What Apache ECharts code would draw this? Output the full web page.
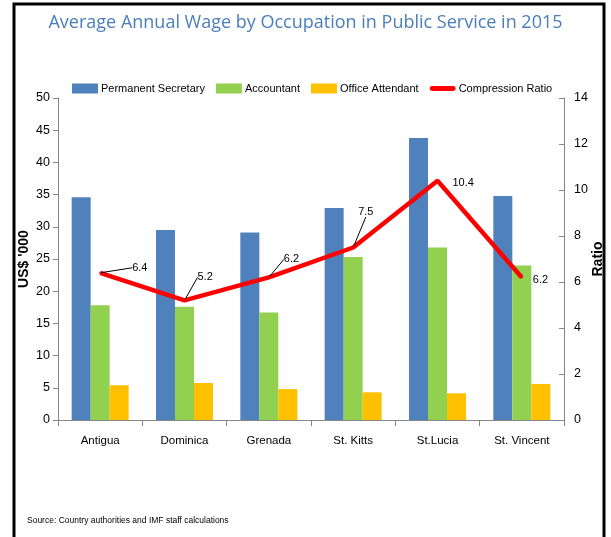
<!DOCTYPE html>
<html>
<head>
<meta charset="utf-8">
<script src="https://cdn.jsdelivr.net/npm/echarts@6/dist/echarts.min.js"></script>
<style>
  html, body { margin: 0; padding: 0; background: #fff; }
  #chart { width: 611px; height: 537px; }
</style>
</head>
<body>
<div id="chart"></div>
<script>
const countries = ['Antigua', 'Dominica', 'Grenada', 'St. Kitts', 'St.Lucia', 'St. Vincent']
const permanentSecretary = [34.6, 29.5, 29.1, 32.9, 43.8, 34.8]
const accountant = [17.8, 17.6, 16.7, 25.3, 26.8, 24.0]
const officeAttendant = [5.4, 5.75, 4.8, 4.3, 4.15, 5.6]
const compressionRatio = [6.4, 5.2, 6.2, 7.5, 10.4, 6.2]

// label shifts (Excel dragged the data labels around)
const labelShift = [[26, -5], [7, -23], [9, -18], [-1, -36], [9, 2], [5, 3]]
const showLeader = [true, true, true, true, false, false]

const font = '"Liberation Sans", Arial, sans-serif'

const myChart = echarts.init(document.getElementById('chart'))

const barSeries = (name, data, color) => ({
  name,
  type: 'bar',
  data,
  yAxisIndex: 0,
  barWidth: 19,
  barGap: '0%',
  itemStyle: { color }
})

const options = {
  animation: false,
  title: {
    text: 'Average Annual Wage by Occupation in Public Service in 2015',
    left: 'center',
    top: 9,
    textStyle: {
      fontFamily: '"Open Sans", sans-serif',
      fontSize: 18,
      fontWeight: 'normal',
      color: '#4a7ebb'
    }
  },
  legend: {
    left: 72,
    top: 83,
    padding: 0,
    itemWidth: 26,
    itemHeight: 10,
    itemGap: 11,
    textStyle: { fontFamily: font, fontSize: 11, color: '#000', padding: [0, 0, 0, -2] },
    data: [
      { name: 'Permanent Secretary', icon: 'rect' },
      { name: 'Accountant', icon: 'rect' },
      { name: 'Office Attendant', icon: 'rect' },
      { name: 'Compression Ratio', icon: 'path://M2,0 H24 A2.5,2.5 0 0 1 24,5 H2 A2.5,2.5 0 0 1 2,0 Z' }
    ]
  },
  grid: { left: 58, right: 47, top: 98, bottom: 117, outerBoundsMode: 'none' },
  xAxis: {
    type: 'category',
    data: countries,
    axisLine: { lineStyle: { color: '#868686', width: 1 } },
    axisTick: { show: true, length: 6, lineStyle: { color: '#868686' } },
    axisLabel: { fontFamily: font, fontSize: 11.5, color: '#000', margin: 15 }
  },
  yAxis: [
    {
      type: 'value',
      min: 0,
      max: 50,
      interval: 5,
      name: "US$ '000",
      nameLocation: 'middle',
      nameRotate: 90,
      nameGap: 27,
      nameMoveOverlap: false,
      nameTextStyle: { fontFamily: font, fontSize: 14, fontWeight: 'bold', color: '#000' },
      splitLine: { show: false },
      axisLine: { show: true, lineStyle: { color: '#868686' } },
      axisTick: { show: true, length: 5, lineStyle: { color: '#868686' } },
      axisLabel: { fontFamily: font, fontSize: 12.5, color: '#000', margin: 8 }
    },
    {
      type: 'value',
      min: 0,
      max: 14,
      interval: 2,
      name: 'Ratio',
      nameLocation: 'middle',
      nameRotate: 90,
      nameGap: 27,
      nameMoveOverlap: false,
      nameTextStyle: { fontFamily: font, fontSize: 14, fontWeight: 'bold', color: '#000' },
      splitLine: { show: false },
      axisLine: { show: true, lineStyle: { color: '#868686' } },
      axisTick: { show: true, inside: true, length: 5, lineStyle: { color: '#868686' } },
      axisLabel: { fontFamily: font, fontSize: 12.5, color: '#000', margin: 10 }
    }
  ],
  series: [
    barSeries('Permanent Secretary', permanentSecretary, '#4f81bd'),
    barSeries('Accountant', accountant, '#92d050'),
    barSeries('Office Attendant', officeAttendant, '#ffc000'),
    {
      name: 'Compression Ratio',
      type: 'line',
      yAxisIndex: 1,
      data: compressionRatio.map((v, i) => ({
        value: v,
        labelLine: { show: showLeader[i] }
      })),
      symbol: 'circle',
      symbolSize: 2,
      showSymbol: true,
      lineStyle: { color: '#ff0000', width: 4.5 },
      itemStyle: { color: '#ff0000' },
      z: 5,
      label: {
        show: true,
        position: 'right',
        distance: 5,
        fontFamily: font,
        fontSize: 11,
        color: '#000'
      },
      labelLine: { show: true, lineStyle: { color: '#000', width: 1 } },
      labelLayout: (params) => ({
        dx: labelShift[params.dataIndex][0],
        dy: labelShift[params.dataIndex][1]
      })
    }
  ],
  graphic: [
    {
      type: 'rect',
      shape: { x: 14, y: 4, width: 590, height: 545 },
      style: { fill: 'none', stroke: '#000', lineWidth: 3 },
      silent: true
    },
    {
      type: 'text',
      left: 27,
      top: 516,
      style: {
        text: 'Source: Country authorities and IMF staff calculations',
        fontFamily: font,
        fontSize: 8.5,
        fill: '#000'
      }
    }
  ]
}

options && myChart.setOption(options)
</script>
</body>
</html>
